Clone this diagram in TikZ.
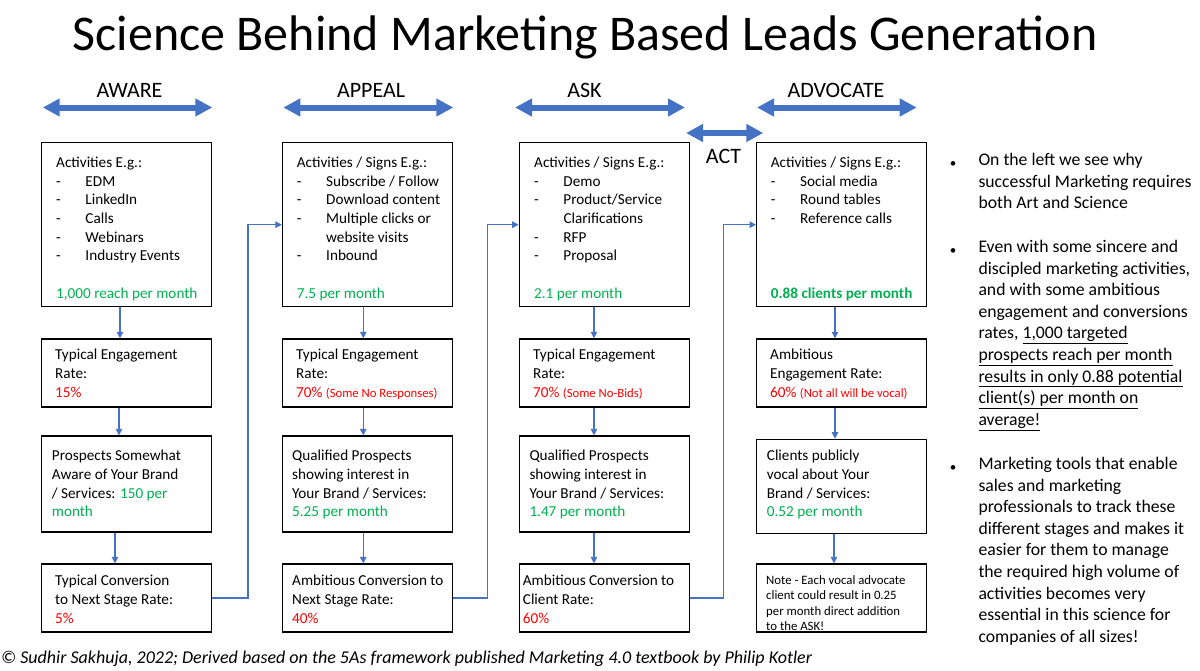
\documentclass[tikz,border=0pt]{standalone}
\usepackage{fontspec}
\setmainfont{Carlito}
\usetikzlibrary{arrows.meta,calc}
\definecolor{hblue}{HTML}{4472C4}
\definecolor{grn}{HTML}{00B050}
\definecolor{rd}{HTML}{FF0000}
\newcommand{\bxf}{\fontsize{15.2}{18.7}\selectfont}
\newcommand{\smf}{\fontsize{12.7}{15}\selectfont}
\newcommand{\notef}{\fontsize{12.8}{15.4}\selectfont}
\newcommand{\rtf}{\fontsize{17.7}{21.6}\selectfont}
\newcommand{\itm}{\makebox[29.3pt][l]{-}}
\newcommand{\ind}{\makebox[29.3pt]{}}
\begin{document}
\begin{tikzpicture}[x=1pt,y=-1pt,
  box/.style={draw=black, line width=1.3pt, minimum width=170pt, inner sep=0pt},
  txt/.style={anchor=north west, inner sep=0pt, align=left, font=\bxf, execute at begin node=\strut},
  ntxt/.style={anchor=north west, inner sep=0pt, align=left, font=\notef, execute at begin node=\strut},
  rtxt/.style={anchor=north west, inner sep=0pt, align=left, font=\rtf, execute at begin node=\strut},
  lbl/.style={anchor=base, inner sep=0pt, font=\fontsize{22}{26}\selectfont},
  hdr/.style={hblue, line width=6pt, arrows={Triangle[width=17pt,length=17pt]-Triangle[width=17pt,length=17pt]}},
  conn/.style={hblue, line width=1.3pt, -{Triangle[width=6.5pt,length=6.5pt]}},
  bul/.style={anchor=base, inner sep=0pt, font=\fontsize{13}{15}\selectfont}
]
\useasboundingbox (0,0) rectangle (1200,670);

% title
\node[anchor=base, inner sep=0pt, font=\fontsize{50}{60}\selectfont] (title) at (585,50) {Science Behind Marketing Based Leads Generation};

% stage labels
\node[lbl] (lAware) at (129.5,97) {AWARE};
\node[lbl] (lAppeal) at (371,97) {APPEAL};
\node[lbl] (lAsk) at (584.5,97) {ASK};
\node[lbl] (lAdv) at (836,97) {ADVOCATE};
\node[lbl] (lAct) at (723.5,163.5) {ACT};

% header arrows
\coordinate (h1a) at (42.7,107.5);  \coordinate (h1b) at (212.3,107.5);
\coordinate (h2a) at (283.3,107.5); \coordinate (h2b) at (453.3,107.5);
\coordinate (h3a) at (515,107.5);   \coordinate (h3b) at (685,107.5);
\coordinate (h4a) at (757,107.5);   \coordinate (h4b) at (916.7,107.5);
\coordinate (h5a) at (686,133);     \coordinate (h5b) at (763.3,133);
\draw[hdr] (h1a) -- (h1b);
\draw[hdr] (h2a) -- (h2b);
\draw[hdr] (h3a) -- (h3b);
\draw[hdr] (h4a) -- (h4b);
\draw[hdr] (h5a) -- (h5b);

% boxes
\foreach \c/\x in {1/126.7,2/367.5,3/604.3,4/841.7}{
  \node[box, minimum height=164pt] (a\c) at (\x,224.7) {};
  \node[box, minimum height=68pt] (b\c) at (\x,372.9) {};
  \node[box, minimum height=68pt] (d\c) at (\x,598) {};
}
\node[box, minimum height=96pt] (p1) at (126.7,484) {};
\node[box, minimum height=96pt] (p2) at (367.5,484) {};
\node[box, minimum height=96pt] (p3) at (604.3,484) {};
\node[box, minimum height=94pt] (p4) at (841.7,486.3) {};

% vertical connectors
\draw[conn] ([xshift=-6.7pt]a1.south) -- ([xshift=-6.7pt]b1.north);
\draw[conn] ([xshift=-7.7pt]b1.south) -- ([xshift=-7.7pt]p1.north);
\draw[conn] ([xshift=-11.7pt]p1.south) -- ([xshift=-11.7pt]d1.north);
\draw[conn] ([xshift=-4.2pt]a2.south) -- ([xshift=-4.2pt]b2.north);
\draw[conn] ([xshift=-4.2pt]b2.south) -- ([xshift=-4.2pt]p2.north);
\draw[conn] ([xshift=-4.2pt]p2.south) -- ([xshift=-4.2pt]d2.north);
\draw[conn] ([xshift=-10.3pt]a3.south) -- ([xshift=-10.3pt]b3.north);
\draw[conn] ([xshift=-10.3pt]b3.south) -- ([xshift=-10.3pt]p3.north);
\draw[conn] ([xshift=-10.3pt]p3.south) -- ([xshift=-10.3pt]d3.north);
\draw[conn] ([xshift=-6.7pt]a4.south) -- ([xshift=-6.7pt]b4.north);
\draw[conn] ([xshift=-6.7pt]b4.south) -- ([xshift=-6.7pt]p4.north);
\draw[conn] ([xshift=-7.7pt]p4.south) -- ([xshift=-7.7pt]d4.north);

% stage-to-stage connectors
\draw[conn] (d1.east) -- ++(35.6,0) |- (a2.west);
\draw[conn] (d2.east) -- ++(34,0) |- (a3.west);
\draw[conn] (d3.east) -- ++(33.4,0) |- (a4.west);

% row 1 texts
\node[txt] (ta1) at (56,156.7) {Activities E.g.:\\ \itm EDM\\ \itm LinkedIn\\ \itm Calls\\ \itm Webinars\\ \itm Industry Events\\ \mbox{}\\ \textcolor{grn}{1,000 reach per month}};
\node[txt] (ta2) at (296.7,156.7) {Activities / Signs E.g.:\\ \itm Subscribe / Follow\\ \itm Download content\\ \itm Multiple clicks or\\ \ind website visits\\ \itm Inbound\\ \mbox{}\\ \textcolor{grn}{7.5 per month}};
\node[txt] (ta3) at (534,156.7) {Activities / Signs E.g.:\\ \itm Demo\\ \itm Product/Service\\ \ind Clarifications\\ \itm RFP\\ \itm Proposal\\ \mbox{}\\ \textcolor{grn}{2.1 per month}};
\node[txt] (ta4) at (770.7,156.7) {Activities / Signs E.g.:\\ \itm Social media\\ \itm Round tables\\ \itm Reference calls\\ \mbox{}\\ \mbox{}\\ \mbox{}\\ \textcolor{grn}{\bfseries 0.88 clients per month}};

% row 2 texts
\node[txt] (tb1) at (55,349) {Typical Engagement\\ Rate:\\ \textcolor{rd}{15\%}};
\node[txt] (tb2) at (296,349) {Typical Engagement\\ Rate:\\ \textcolor{rd}{70\% {\smf(Some No Responses)}}};
\node[txt] (tb3) at (533,349) {Typical Engagement\\ Rate:\\ \textcolor{rd}{70\% {\smf(Some No-Bids)}}};
\node[txt] (tb4) at (770,349) {Ambitious\\ Engagement Rate:\\ \textcolor{rd}{60\% {\smf(Not all will be vocal)}}};

% row 3 texts
\node[txt] (tp1) at (51.7,450) {Prospects Somewhat\\ Aware of Your Brand\\ / Services: \textcolor{grn}{150 per}\\ \textcolor{grn}{month}};
\node[txt] (tp2) at (292,450) {Qualified Prospects\\ showing interest in\\ Your Brand / Services:\\ \textcolor{grn}{5.25 per month}};
\node[txt] (tp3) at (529.3,450) {Qualified Prospects\\ showing interest in\\ Your Brand / Services:\\ \textcolor{grn}{1.47 per month}};
\node[txt] (tp4) at (766.7,450) {Clients publicly\\ vocal about Your\\ Brand / Services:\\ \textcolor{grn}{0.52 per month}};

% row 4 texts
\node[txt] (td1) at (55,575) {Typical Conversion\\ to Next Stage Rate:\\ \textcolor{rd}{5\%}};
\node[txt] (td2) at (292,575) {Ambitious Conversion to\\ Next Stage Rate:\\ \textcolor{rd}{40\%}};
\node[txt] (td3) at (522.7,575) {Ambitious Conversion to\\ Client Rate:\\ \textcolor{rd}{60\%}};
\node[ntxt] (td4) at (766,575.5) {Note - Each vocal advocate\\ client could result in 0.25\\ per month direct addition\\ to the ASK!};

% right-hand notes
\node[bul] (b1) at (953,167.5) {•};
\node[bul] (b2) at (953,254.5) {•};
\node[bul] (b3) at (953,471.5) {•};
\node[rtxt] (r1) at (978.3,153) {On the left we see why\\ successful Marketing requires\\ both Art and Science};
\node[rtxt] (r2) at (978.3,240) {Even with some sincere and\\ discipled marketing activities,\\ and with some ambitious\\ engagement and conversions\\ rates, \underline{1,000 targeted}\\ \underline{prospects reach per month}\\ \underline{results in only 0.88 potential}\\ \underline{client(s) per month on}\\ \underline{average!}};
\node[rtxt] (r3) at (978.3,457) {Marketing tools that enable\\ sales and marketing\\ professionals to track these\\ different stages and makes it\\ easier for them to manage\\ the required high volume of\\ activities becomes very\\ essential in this science for\\ companies of all sizes!};

% footer
\node[anchor=base west, inner sep=0pt, font=\fontsize{18}{21}\selectfont\itshape] (foot) at (1,663) {© Sudhir Sakhuja, 2022; Derived based on the 5As framework published Marketing 4.0 textbook by Philip Kotler};
\end{tikzpicture}
\end{document}
